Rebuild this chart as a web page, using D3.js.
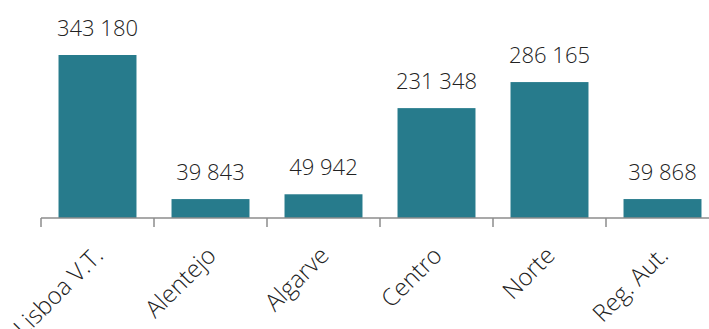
<!DOCTYPE html>
<html>
<head>
<meta charset="utf-8">
<script src="https://cdn.jsdelivr.net/npm/d3@7"></script>
<style>
  body { margin: 0; background: #fff; }
  svg text { font-family: "Open Sans", sans-serif; fill: #222; }
</style>
</head>
<body>
<svg id="chart" width="709" height="329"></svg>
<script>
// regions and their values
const regions = ["Lisboa V.T.", "Alentejo", "Algarve", "Centro", "Norte", "Reg. Aut."];
const values = [343180, 39843, 49942, 231348, 286165, 39868];

const svg = d3.select("#chart");
const baseY = 218;

const x = d3.scaleBand().domain(regions).range([41, 719]).paddingInner(0.31).paddingOuter(0.155);
const y = d3.scaleLinear().domain([0, d3.max(values)]).range([baseY, 55]);

const fmt = v => d3.format(",")(v).replace(/,/g, " ");

// bars
svg.selectAll(".bar").data(regions).join("rect")
    .attr("class", "bar")
    .attr("x", d => x(d)).attr("width", x.bandwidth())
    .attr("y", (d, i) => y(values[i]))
    .attr("height", (d, i) => baseY - y(values[i]))
    .attr("fill", "#277b8c");

// value labels
svg.selectAll(".lbl").data(regions).join("text")
    .attr("class", "lbl")
    .attr("x", d => x(d) + x.bandwidth() / 2)
    .attr("y", (d, i) => y(values[i]) - 19)
    .attr("text-anchor", "middle")
    .style("font-size", "22px").style("font-weight", 300)
    .text((d, i) => fmt(values[i]));

// axis line + ticks at band boundaries
const step = x.step();
const edges = d3.range(regions.length + 1).map(i => 41 + i * step);
svg.append("line").attr("x1", 41).attr("x2", 719).attr("y1", baseY).attr("y2", baseY)
    .attr("stroke", "#8c8c8c").attr("stroke-width", 1.5);
svg.selectAll(".tick").data(edges).join("line")
    .attr("x1", d => d).attr("x2", d => d).attr("y1", baseY).attr("y2", baseY + 9)
    .attr("stroke", "#8c8c8c").attr("stroke-width", 1.5);

// category labels
svg.selectAll(".cat").data(regions).join("text")
    .attr("class", "cat")
    .attr("transform", d => `translate(${x(d) + x.bandwidth() / 2 + 1},${baseY + 33}) rotate(-45)`)
    .attr("text-anchor", "end")
    .attr("dy", "0.35em")
    .style("font-size", "24px").style("font-weight", 300)
    .text(d => d);
</script>
</body>
</html>
